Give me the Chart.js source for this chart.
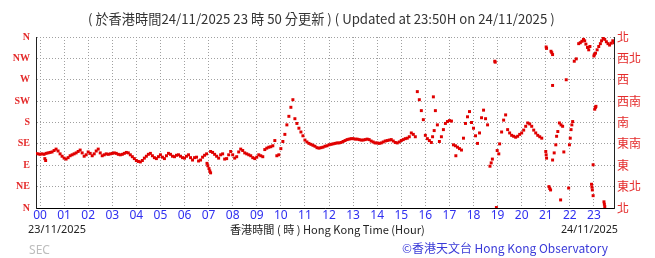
<!DOCTYPE html>
<html>
<head>
<meta charset="utf-8">
<title>Wind direction</title>
<script src="https://cdn.jsdelivr.net/npm/chart.js@4.4.1/dist/chart.umd.min.js"></script>
<style>
  html, body { margin: 0; padding: 0; background: #fff; }
  #windChart { display: block; }
</style>
</head>
<body>
<canvas id="windChart" width="655" height="258"></canvas>
<script>
// Hour labels along the bottom axis
const hourLabels = ['00', '01', '02', '03', '04', '05', '06', '07', '08', '09', '10', '11',
                    '12', '13', '14', '15', '16', '17', '18', '19', '20', '21', '22', '23'];

// Compass labels, bottom (0 deg) to top (360 deg)
const compassLeft = ['N', 'NE', 'E', 'SE', 'S', 'SW', 'W', 'NW', 'N'];
const compassRight = ['北', '東北', '東', '東南', '南', '西南', '西', '西北', '北'];

// Wind direction every 5 minutes (deg), first reading 23:50 on 23/11
const startMinute = -10;
const stepMinutes = 5;
const windDir = [
  115, 114,
  113, 114, 113, 115, 116, 117, 118, 121, 124, 120, 114, 109,   // 00
  105, 103, 106, 110, 112, 114, 116, 119, 122, 116, 109, 112,   // 01
  118, 115, 110, 114, 120, 124, 116, 110, 112, 114, 113, 114,   // 02
  115, 116, 115, 113, 112, 113, 115, 117, 116, 112, 108, 104,   // 03
  100, 98, 97, 100, 105, 109, 113, 115, 110, 106, 104, 108,     // 04
  112, 107, 104, 110, 115, 113, 109, 108, 111, 112, 109, 106,   // 05
  105, 109, 112, 106, 101, 106, 107, 99, 101, 107, 111, 114,    // 06
  null, 119, 117, 113, 109, 105, 112, 114, 103, 104, 112, 119,  // 07
  112, 105, 108, 118, 124, 121, 116, 114, 112, 110, 106, 104,   // 08
  107, 112, 110, 108, 123, 126, 128, 129, 131, 142, 110, 112,   // 09
  125, 140, 155, 175, 193, 212, 228, 188, 178, 168, 160, 152,   // 10
  143, 139, 136, 134, 132, 130, 127, 126, 127, 128, 130, 131,   // 11
  133, 134, 135, 136, 137, 137, 138, 140, 142, 144, 145, 146,   // 12
  146, 145, 145, 144, 143, 143, 144, 145, 144, 141, 139, 137,   // 13
  137, 136, 137, 139, 141, 142, 143, 144, 141, 138, 137, 139,   // 14
  142, 144, 146, 147, 150, 158, 155, 150, 245, 228, 205, 186,   // 15
  153, 146, 142, 138, 234, 205, 175, 140, 150, 165, 178, 182,   // 16
  184, 183, 133, 131, 128, 125, 122, 147, 178, 192, 203, 180,   // 17
  168, 152, 136, 158, 190, 206, 188, 175, null, null, null, null, // 18
  null, 135, 160, 185, 196, 165, 158, 153, 151, 149, 151, 155,  // 19
  158, 164, 172, 179, 177, 172, 164, 158, 153, 150, 147, null,  // 20
  null, null, null, null, null, null, null, null, null, null, null, null, // 21
  null, null, null, null, null, null, null, null, null, null, null, null, // 22
  null, null, null, null, null, null, null, null, null, null, null        // 23
];

// Scattered readings
const strayTimes = [
  '00:12', '00:14', '06:56', '06:58', '07:01', '07:03', '07:05', '16:18', '16:22', '17:16',
  '18:41', '18:44', '18:47', '18:53', '18:54', '18:57', '18:59', '19:03',
  '21:00', '21:01', '21:01', '21:02', '21:02', '21:08', '21:10', '21:12', '21:13', '21:15',
  '21:17', '21:17', '21:17', '21:21', '21:25', '21:27', '21:30', '21:34', '21:38', '21:42',
  '21:37', '21:45', '21:51', '21:57', '21:59', '22:01', '22:03', '22:05', '22:07', '22:11', '22:16',
  '22:22', '22:26', '22:30', '22:34', '22:37', '22:40', '22:44', '22:47', '22:50',
  '22:54', '22:55', '22:56', '22:58', '22:58', '23:00', '23:01', '23:02', '23:04', '23:05',
  '23:04', '23:08', '23:12', '23:16', '23:19', '23:23', '23:25', '23:26', '23:27', '23:27',
  '23:31', '23:35', '23:39', '23:43', '23:47', '23:50'
];
const strayDirs = [
  104, 100, 94, 89, 83, 78, 74, 150, 163, 110,
  88, 95, 103, 309, 307, 1, 121, 114,
  119, 112, 339, 105, 336, 45, 41, 38, 330, 327,
  323, 258, 101, 116, 133, 151, 161, 179, 175, 172,
  17, 118, 270, 42, 133, 147, 165, 175, 182, 309, 314,
  346, 348, 351, 355, 352, 345, 338, 333, 340,
  50, 44, 38, 26, 91, 320, 323, 208, 212, 214,
  326, 333, 340, 346, 352, 357, 13, 8, 3, 355,
  350, 346, 343, 347, 352, 348
];

const titleText = '( 於香港時間24/11/2025 23 時 50 分更新 ) ( Updated at 23:50H on 24/11/2025 )';

function toHours(hhmm) {
  const [h, m] = hhmm.split(':').map(Number);
  return h + m / 60;
}

// Draw text so it fills a given width
function fitText(ctx, text, left, y, width, color, family) {
  ctx.font = '13px ' + family;
  const size = 13 * width / ctx.measureText(text).width;
  ctx.font = size.toFixed(2) + 'px ' + family;
  ctx.fillStyle = color;
  ctx.textAlign = 'left';
  ctx.textBaseline = 'middle';
  ctx.fillText(text, left, y);
}

const textPlugin = {
  id: 'hkoText',
  afterDraw(chart) {
    const ctx = chart.ctx;
    const cjk = '"Noto Sans CJK TC"';
    ctx.save();
    fitText(ctx, titleText, 88, 19, 467, '#333', cjk);
    fitText(ctx, '23/11/2025', 28, 230, 58, '#222', '"Noto Sans"');
    fitText(ctx, '香港時間 ( 時 ) Hong Kong Time (Hour)', 230, 230, 195, '#222', cjk);
    fitText(ctx, '24/11/2025', 561, 230, 57, '#222', '"Noto Sans"');
    fitText(ctx, 'SEC', 29, 251, 21, '#bdbdbd', '"Noto Sans"');
    fitText(ctx, '©香港天文台 Hong Kong Observatory', 402, 248, 206, '#3a3ad8', cjk);
    ctx.restore();
  }
};

const mainPoints = windDir.map((d, i) => ({ x: (startMinute + i * stepMinutes) / 60, y: d }));
const strayPoints = strayTimes.map((t, i) => ({ x: toHours(t), y: strayDirs[i] }));

const gridColor = '#a0a0a0';
const dotRed = '#e00000';

function compassTicks(scale) {
  scale.ticks = compassLeft.map((_, i) => ({ value: i * 45 }));
}

document.addEventListener('DOMContentLoaded', () => {
  const ctx = document.getElementById('windChart').getContext('2d');
  const dotStyle = { backgroundColor: dotRed, borderWidth: 0, pointStyle: 'rect', pointRadius: 2.1, yAxisID: 'y' };
  new Chart(ctx, {
    type: 'scatter',
    data: {
      datasets: [
        { data: mainPoints, ...dotStyle },
        { data: strayPoints, ...dotStyle }
      ]
    },
    options: {
      responsive: false,
      animation: false,
      devicePixelRatio: 1,
      layout: { padding: { top: 37, left: 0, right: 0, bottom: 0 } },
      plugins: { legend: { display: false }, tooltip: { enabled: false } },
      scales: {
        x: {
          type: 'linear',
          min: startMinute / 60,
          max: (24 * 60 + startMinute) / 60,
          afterBuildTicks: (s) => { s.ticks = hourLabels.map((_, i) => ({ value: i })); },
          afterFit: (s) => { s.height = 50; },
          grid: { color: gridColor, drawTicks: false },
          border: { color: '#000', width: 1, dash: [1, 2] },
          ticks: {
            padding: 0,
            autoSkip: false,
            maxRotation: 0,
            color: '#3030f0',
            font: { family: 'Noto Sans', size: 12 },
            callback: (v) => hourLabels[v]
          }
        },
        y: {
          type: 'linear',
          position: 'left',
          min: 0,
          max: 360,
          afterBuildTicks: compassTicks,
          afterFit: (s) => { s.width = 36; },
          grid: { color: gridColor, drawTicks: false },
          border: { color: '#222', width: 1, dash: [1, 2] },
          ticks: {
            padding: 6,
            color: '#e42a2a',
            font: { family: 'Liberation Serif', size: 10, weight: 'bold' },
            callback: (v) => compassLeft[Math.round(v / 45)]
          }
        },
        y2: {
          type: 'linear',
          position: 'right',
          min: 0,
          max: 360,
          afterBuildTicks: compassTicks,
          afterFit: (s) => { s.width = 41; },
          grid: { display: false, drawTicks: false },
          border: { color: '#222', width: 1 },
          ticks: {
            padding: 3,
            color: '#e42a2a',
            font: { family: 'Noto Sans CJK TC', size: 12 },
            callback: (v) => compassRight[Math.round(v / 45)]
          }
        }
      }
    },
    plugins: [textPlugin]
  });
});
</script>
</body>
</html>
